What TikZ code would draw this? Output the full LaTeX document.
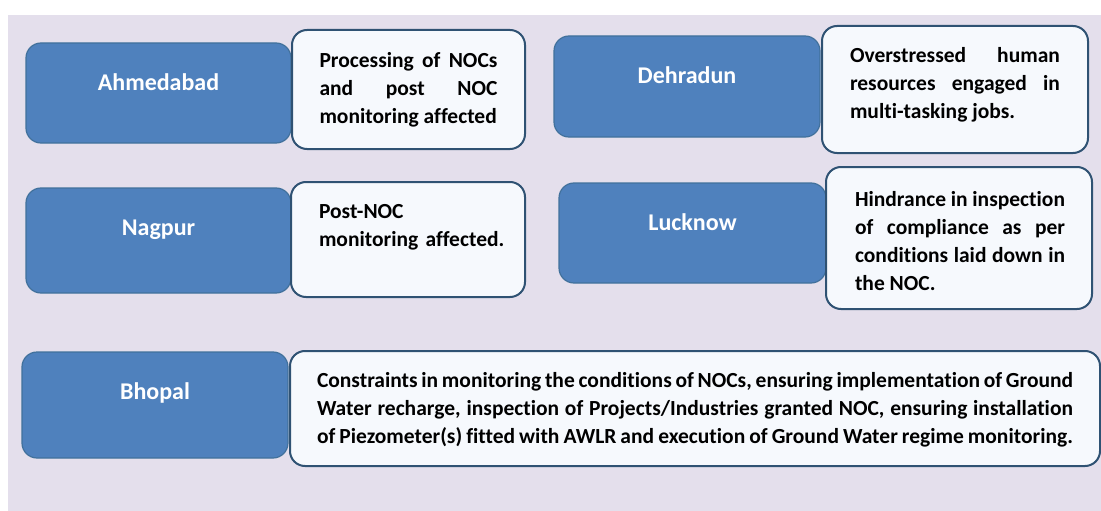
\documentclass[tikz,border=0pt]{standalone}
\usepackage{fontspec}
\setmainfont{Carlito}[Ligatures=NoCommon]
\usetikzlibrary{
    positioning       % For placing the labels relative to the boxes
}
\definecolor{panelbg}{HTML}{E4DFEC}
\definecolor{cityblue}{HTML}{4F81BD}
\definecolor{cityedge}{HTML}{41719C}
\definecolor{issuefill}{HTML}{F6F9FD}
\definecolor{issueedge}{HTML}{2F5273}

\begin{document}
\begin{tikzpicture}[
    x=1pt, y=-1pt,
    % Blue boxes holding the city names
    city_box/.style={
        draw=cityedge, fill=cityblue, line width=1.2pt,
        rounded corners=15pt, inner sep=0pt
    },
    city_text/.style={
        text=white, font=\bfseries\fontsize{24}{28}\selectfont
    },
    % White boxes holding the problems
    issue_box/.style={
        draw=issueedge, fill=issuefill, line width=2pt,
        rounded corners=15pt, inner sep=0pt
    },
    issue_text/.style={
        font=\bfseries\fontsize{21.5}{28}\selectfont,
        align=justify, inner sep=0pt
    }
]
    % 0. Page and the lavender panel behind everything.
    \useasboundingbox (0,0) rectangle (1101,511);
    \fill[white] (0,0) rectangle (1101,511);
    \fill[panelbg] (8,15) rectangle (1101,511);

    % 1. The city boxes.
    \node[city_box, minimum width=265pt, minimum height=100pt] (ahmedabad) at (158.5,93) {};
    \node[city_box, minimum width=266pt, minimum height=101pt] (dehradun) at (687,86.5) {};
    \node[city_box, minimum width=265pt, minimum height=105pt] (nagpur) at (158.5,240.5) {};
    \node[city_box, minimum width=267pt, minimum height=100pt] (lucknow) at (692.5,233) {};
    \node[city_box, minimum width=266pt, minimum height=106pt] (bhopal) at (155,405) {};

    % 2. City names, a little above the middle of each box.
    \node[city_text] (ahmedabad_name) at ([yshift=11pt]ahmedabad.center) {Ahmedabad};
    \node[city_text] (dehradun_name) at ([yshift=11pt]dehradun.center) {Dehradun};
    \node[city_text] (nagpur_name) at ([yshift=11pt]nagpur.center) {Nagpur};
    \node[city_text] (lucknow_name) at ([yshift=11pt]lucknow.center) {Lucknow};
    \node[city_text] (bhopal_name) at ([yshift=12pt]bhopal.center) {Bhopal};

    % 3. The problem boxes, laid over the right end of the city boxes.
    \node[issue_box, minimum width=233pt, minimum height=119pt] (ahmedabad_issue) at (408.5,89.5) {};
    \node[issue_box, minimum width=266pt, minimum height=127pt] (dehradun_issue) at (955,89.5) {};
    \node[issue_box, minimum width=234pt, minimum height=115pt] (nagpur_issue) at (408,239.5) {};
    \node[issue_box, minimum width=266pt, minimum height=142pt] (lucknow_issue) at (959,238) {};
    \node[issue_box, minimum width=810pt, minimum height=115pt] (bhopal_issue) at (695,408.5) {};

    % 4. Texts of the problems.
    \node[issue_text, text width=178pt] (ahmedabad_note) at ([yshift=-0.5pt]ahmedabad_issue.center)
        {Processing of NOCs\linebreak and post NOC\linebreak monitoring affected};
    \node[issue_text, text width=210pt] (dehradun_note) at ([yshift=4.5pt]dehradun_issue.center)
        {Overstressed human\linebreak resources engaged in\linebreak multi-tasking jobs.};
    \node[issue_text, align=left, text width=190pt] (nagpur_note) at ([xshift=6pt, yshift=12.5pt]nagpur_issue.center)
        {Post-NOC\\ monitoring affected.};
    \node[issue_text, text width=210pt] (lucknow_note) at ([xshift=1pt, yshift=-3pt]lucknow_issue.center)
        {Hindrance in inspection\linebreak of compliance as per\linebreak conditions laid down in\linebreak the NOC.};
    \node[issue_text, text width=756pt] (bhopal_note) at ([yshift=-1pt]bhopal_issue.center)
        {Constraints in monitoring the conditions of NOCs, ensuring implementation of Ground\linebreak
         Water recharge, inspection of Projects/Industries granted NOC, ensuring installation\linebreak
         of Piezometer(s) fitted with AWLR and execution of Ground Water regime monitoring.};

\end{tikzpicture}
\end{document}
